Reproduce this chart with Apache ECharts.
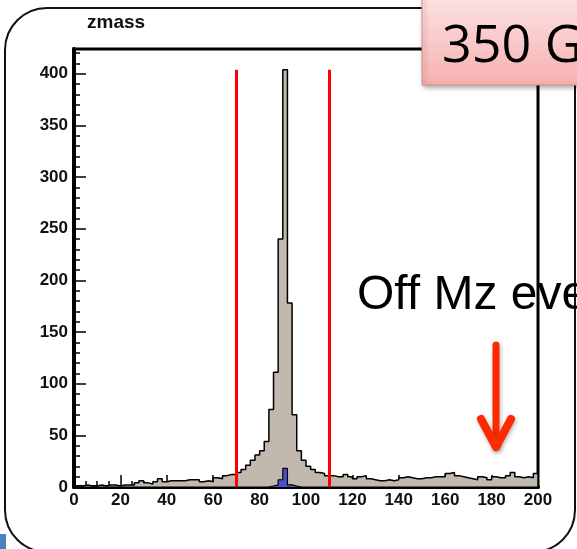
<!DOCTYPE html>
<html>
<head>
<meta charset="utf-8">
<script src="https://cdn.jsdelivr.net/npm/echarts@6/dist/echarts.min.js"></script>
<style>
  html, body { margin: 0; padding: 0; background: #fff; }
  #chart { width: 577px; height: 549px; }
</style>
</head>
<body>
<div id="chart"></div>
<script>
// Dilepton invariant mass, 100 bins of 2 GeV from 0 to 200
const binWidth = 2;
const massRange = [0, 200];

// All events per bin
const zmassCounts = [
  1, 1, 2, 1, 1, 2, 1, 2, 2, 1,
  2, 2, 2, 4, 6, 4, 3, 5, 8, 5,
  6, 6, 6, 6, 7, 7, 7, 5, 6, 5,
  9, 8, 11, 12, 12, 14, 17, 21, 26, 31,
  35, 44, 75, 111, 240, 404, 178, 70, 35, 26,
  20, 17, 14, 13, 11, 11, 10, 10, 12, 10,
  8, 10, 11, 8, 7, 6, 6, 7, 6, 7,
  9, 10, 9, 8, 8, 9, 9, 10, 10, 10,
  13, 14, 11, 10, 9, 8, 7, 10, 9, 7,
  10, 9, 9, 11, 14, 10, 9, 10, 9, 13
];

// Selected subset per bin
const zmassSelected = [
  0, 0, 0, 0, 0, 0, 0, 0, 0, 0,
  0, 0, 0, 0, 0, 0, 0, 0, 0, 0,
  0, 0, 0, 0, 0, 0, 0, 0, 0, 0,
  0, 0, 0, 0, 0, 0, 0, 0, 0, 0,
  0, 0, 1, 2, 7, 18, 2, 1, 0, 0,
  0, 0, 0, 0, 0, 0, 0, 0, 0, 0,
  0, 0, 0, 0, 0, 0, 0, 0, 0, 0,
  0, 0, 0, 0, 0, 0, 0, 0, 0, 0,
  0, 0, 0, 0, 0, 0, 0, 0, 0, 0,
  0, 0, 0, 0, 0, 0, 0, 0, 0, 0
];

// Mass window cuts and the height the cut lines reach
const cutValues = [70, 110];
const cutLineTop = 404;

// Axis settings
const yMax = 424;
const xMajorStep = 20, xMinorStep = 5;
const yMajorStep = 50, yMinorStep = 10;

// Stepped outline of a histogram: each bin gives a flat top from its low
// edge to its high edge; the outline starts and ends on zero.
function histOutline(counts) {
  const pts = [[massRange[0], 0]];
  counts.forEach((c, i) => {
    const lo = massRange[0] + i * binWidth;
    pts.push([lo, c]);
    pts.push([lo + binWidth, c]);
  });
  pts.push([massRange[1], 0]);
  return pts;
}

const labelFont = {
  fontFamily: 'Liberation Sans, Arial, sans-serif',
  fontWeight: 'bold',
  fontSize: 17,
  color: '#111'
};

const chart = echarts.init(document.getElementById('chart'), null, { renderer: 'canvas' });

chart.setOption({
  animation: false,
  backgroundColor: '#fff',
  title: {
    text: 'zmass',
    left: 82,
    top: 8,
    textStyle: {
      fontFamily: 'Liberation Sans, Arial, sans-serif',
      fontWeight: 'bold',
      fontSize: 19,
      color: '#111'
    }
  },
  grid: {
    left: 74, right: 39, top: 49, bottom: 62,
    show: true,
    borderColor: '#000',
    borderWidth: 3,
    backgroundColor: 'transparent'
  },
  xAxis: [
    {
      type: 'value', min: massRange[0], max: massRange[1], interval: xMajorStep,
      position: 'bottom',
      axisLine: { show: true, lineStyle: { color: '#000', width: 4 } },
      axisTick: { show: true, inside: true, length: 12, lineStyle: { color: '#000', width: 1.5 } },
      axisLabel: Object.assign({ margin: 5 }, labelFont),
      splitLine: { show: false }
    },
    {
      type: 'value', min: massRange[0], max: massRange[1], interval: xMinorStep,
      position: 'bottom',
      axisLine: { show: false },
      axisTick: { show: true, inside: true, length: 6, lineStyle: { color: '#000', width: 1.5 } },
      axisLabel: { show: false },
      splitLine: { show: false }
    }
  ],
  yAxis: [
    {
      type: 'value', min: 0, max: yMax, interval: yMajorStep,
      position: 'left',
      axisLine: { show: true, lineStyle: { color: '#000', width: 4 } },
      axisTick: { show: true, inside: true, length: 12, lineStyle: { color: '#000', width: 1.5 } },
      axisLabel: Object.assign({ margin: 6, showMaxLabel: false }, labelFont),
      splitLine: { show: false }
    },
    {
      type: 'value', min: 0, max: yMax, interval: yMinorStep,
      position: 'left',
      axisLine: { show: false },
      axisTick: { show: true, inside: true, length: 6, lineStyle: { color: '#000', width: 1.5 } },
      axisLabel: { show: false },
      splitLine: { show: false }
    }
  ],
  series: [
    {
      name: 'all',
      type: 'line',
      xAxisIndex: 0, yAxisIndex: 0,
      symbol: 'none',
      data: histOutline(zmassCounts),
      lineStyle: { color: '#000', width: 1.5 },
      areaStyle: { color: '#c1b8ae', opacity: 1 },
      z: 3,
      markLine: {
        silent: true,
        symbol: 'none',
        label: { show: false },
        lineStyle: { color: '#ff0000', width: 3, type: 'solid' },
        data: cutValues.map(v => [{ coord: [v, 0] }, { coord: [v, cutLineTop] }])
      }
    },
    {
      name: 'selected',
      type: 'line',
      xAxisIndex: 0, yAxisIndex: 0,
      symbol: 'none',
      data: histOutline(zmassSelected),
      lineStyle: { color: '#000', width: 1.2 },
      areaStyle: { color: '#4f4fd2', opacity: 1 },
      z: 4
    }
  ],
  graphic: [
    {
      type: 'rect', z: 50, silent: true,
      shape: { x: 5, y: 8, width: 570, height: 544, r: 42 },
      style: { fill: 'none', stroke: '#111', lineWidth: 2 }
    },
    {
      type: 'rect', z: 60, silent: true,
      shape: { x: 422, y: -10, width: 170, height: 95 },
      style: {
        fill: new echarts.graphic.LinearGradient(0, 0, 0, 1, [
          { offset: 0, color: '#fde6e6' },
          { offset: 1, color: '#f6b0b0' }
        ]),
        stroke: '#e08a8a', lineWidth: 1,
        shadowBlur: 5, shadowOffsetX: 2, shadowOffsetY: 2, shadowColor: 'rgba(0,0,0,0.35)'
      }
    },
    {
      type: 'text', z: 61, silent: true,
      style: {
        x: 442, y: 47, text: '350 GeV',
        verticalAlign: 'middle',
        font: '52px "Open Sans", sans-serif',
        fill: '#000'
      }
    },
    {
      type: 'text', z: 61, silent: true,
      style: {
        x: 357, y: 296, text: 'Off Mz events',
        verticalAlign: 'middle',
        font: '48px "Liberation Sans", Arial, sans-serif',
        fill: '#000'
      }
    },
    {
      type: 'polyline', z: 62, silent: true,
      shape: { points: [[496, 345], [496, 446]] },
      style: {
        stroke: '#ff2a00', lineWidth: 7, lineCap: 'round',
        shadowBlur: 4, shadowOffsetX: 1, shadowOffsetY: 2, shadowColor: 'rgba(0,0,0,0.3)'
      }
    },
    {
      type: 'polyline', z: 62, silent: true,
      shape: { points: [[481, 419], [496, 447], [511, 419]] },
      style: {
        stroke: '#ff2a00', lineWidth: 8, lineCap: 'round', lineJoin: 'round', fill: 'none',
        shadowBlur: 4, shadowOffsetX: 1, shadowOffsetY: 2, shadowColor: 'rgba(0,0,0,0.3)'
      }
    },
    {
      type: 'rect', z: 62, silent: true,
      shape: { x: 0, y: 534, width: 6, height: 15 },
      style: { fill: '#4f81bd' }
    }
  ]
});
</script>
</body>
</html>
